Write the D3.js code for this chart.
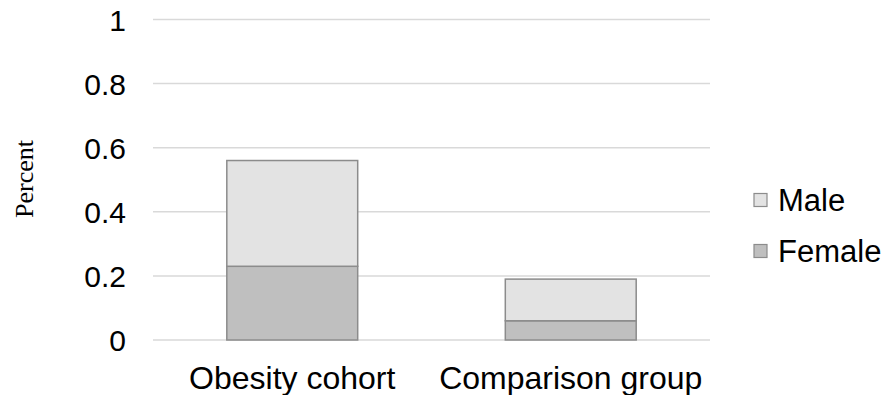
<!DOCTYPE html>
<html><head><meta charset="utf-8">
<script src="https://cdn.jsdelivr.net/npm/d3@7"></script>
<style>body{margin:0;background:#fff}svg{display:block}</style>
</head><body>
<svg id="c" width="884" height="395"></svg>
<script>
const categories = ["Obesity cohort", "Comparison group"];
const seriesNames = ["Female", "Male"];
const femaleValues = [0.23, 0.06];
const maleValues = [0.33, 0.13];
const yTicks = [0, 0.2, 0.4, 0.6, 0.8, 1];
const yTickLabels = ["0", "0.2", "0.4", "0.6", "0.8", "1"];
const legendItems = ["Male", "Female"];
const colors = {Female: "#bfbfbf", Male: "#e3e3e3"};

(function () {
const svg = d3.select("#c");
const mLeft = 153, mRight = 710, mTop = 19.5, mBottom = 340;
const sans = "Liberation Sans, Arial, sans-serif";
const x = d3.scaleBand().domain(categories).range([mLeft, mRight]).paddingInner(0.53).paddingOuter(0.265);
const y = d3.scaleLinear().domain([0, 1]).range([mBottom, mTop]);

const rows = categories.map((c, i) => ({cat: c, Female: femaleValues[i], Male: maleValues[i]}));
const stacked = d3.stack().keys(seriesNames)(rows);

svg.append("g").selectAll("line").data(yTicks).join("line")
  .attr("x1", mLeft).attr("x2", mRight)
  .attr("y1", d => y(d)).attr("y2", d => y(d))
  .attr("stroke", "#d9d9d9").attr("stroke-width", 1.5);

const yAxis = d3.axisLeft(y).tickValues(yTicks).tickFormat((d, i) => yTickLabels[i]).tickSize(0).tickPadding(0);
const ya = svg.append("g").attr("transform", `translate(126,0)`).call(yAxis);
ya.select(".domain").remove();
ya.selectAll("text").attr("font-family", sans).attr("font-size", 30).attr("fill", "#000").attr("dy", "0.35em");

svg.append("g").selectAll("g").data(stacked).join("g")
  .attr("fill", d => colors[d.key])
  .selectAll("rect").data(d => d).join("rect")
  .attr("x", d => x(d.data.cat))
  .attr("width", x.bandwidth())
  .attr("y", d => y(d[1]))
  .attr("height", d => y(d[0]) - y(d[1]))
  .attr("stroke", "#8c8c8c").attr("stroke-width", 1.5);

const xAxis = d3.axisBottom(x).tickSize(0).tickPadding(0);
const xa = svg.append("g").attr("transform", `translate(0,389)`).call(xAxis);
xa.select(".domain").remove();
xa.selectAll("text").attr("font-family", sans).attr("font-size", 32).attr("fill", "#000").attr("dy", "0");

svg.append("text").attr("transform", "translate(33,179) rotate(-90)")
  .attr("text-anchor", "middle").attr("font-family", "Liberation Serif, Times New Roman, serif")
  .attr("font-size", 26).attr("fill", "#000").text("Percent");

const lg = svg.append("g").selectAll("g").data(legendItems).join("g")
  .attr("transform", (d, i) => `translate(754,${200 + i * 51})`);
lg.append("rect").attr("x", 0).attr("y", -6.5).attr("width", 13).attr("height", 13)
  .attr("fill", d => colors[d]).attr("stroke", "#8c8c8c").attr("stroke-width", 1.2);
lg.append("text").attr("x", 24).attr("y", 0).attr("dy", "0.35em")
  .attr("font-family", sans).attr("font-size", 31).attr("fill", "#000").text(d => d);
})();
</script>
</body></html>
